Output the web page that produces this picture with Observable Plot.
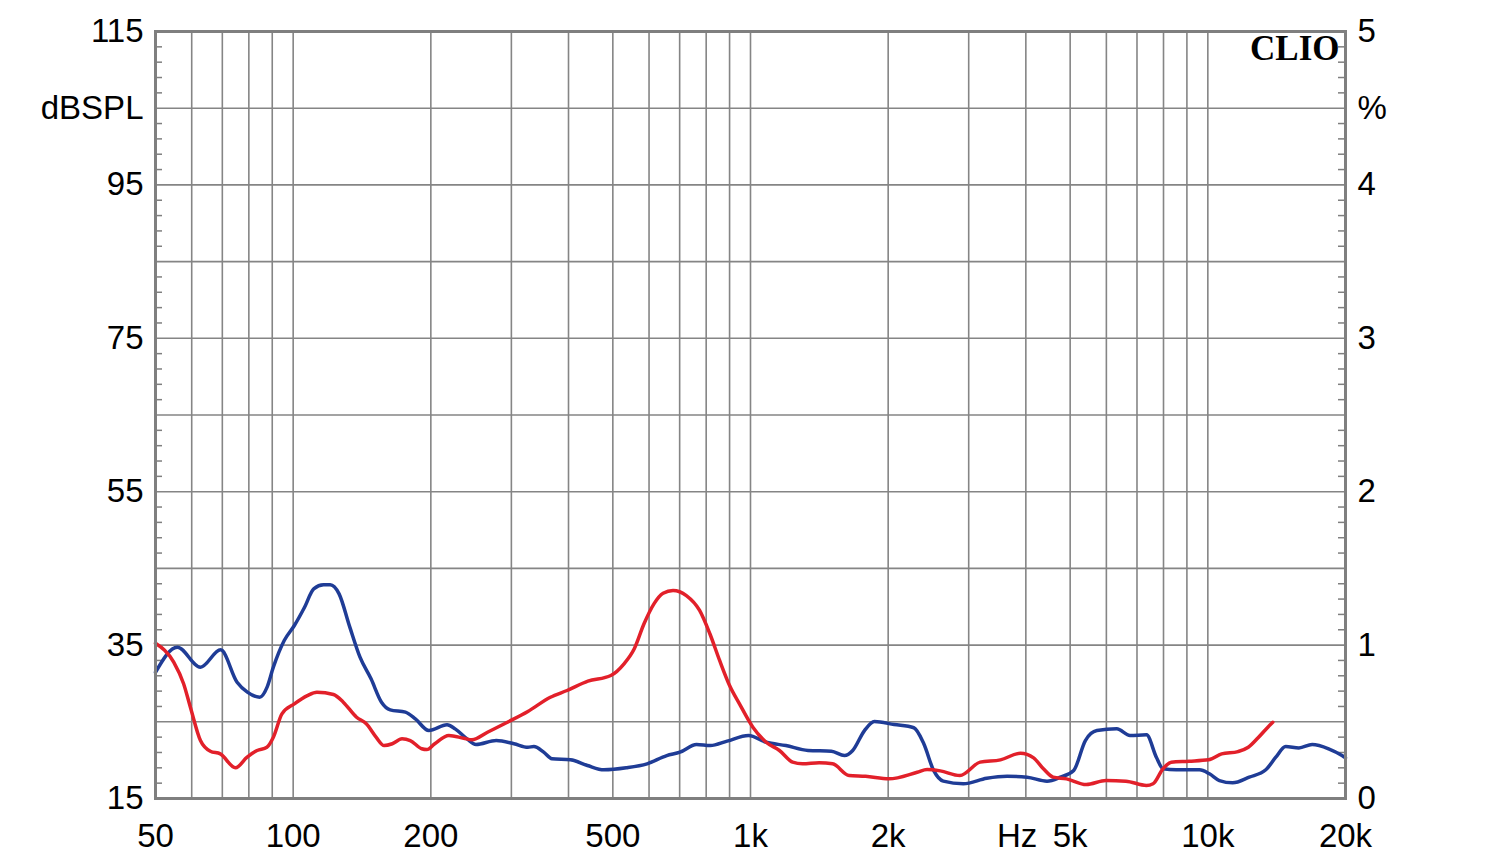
<!DOCTYPE html>
<html>
<head>
<meta charset="utf-8">
<script src="https://cdn.jsdelivr.net/npm/d3@7"></script>
<script src="https://cdn.jsdelivr.net/npm/@observablehq/plot@0.6"></script>
<style>
  html, body { margin: 0; padding: 0; background: #fff; }
  #chart svg { display: block; }
</style>
</head>
<body>
<div id="chart"></div>
<script>
// Blue curve (frequency in Hz, distortion in %)
const blueFreq = [50,55.8,62.7,69.4,75.4,79.4,84.5,87.7,90.5,95.6,100.6,105.9,110.9,116.5,120.5,126,133,140,148,156,163,176,185,198,217,226,240,251,278,304,326,336,353,368,404,440,478,535,594,656,701,762,817,889,990,1083,1195,1336,1503,1605,1673,1775,1866,2062,2276,2393,2514,2640,2920,3286,3640,4025,4450,4760,5090,5398,5720,6322,6758,7343,7717,7980,8530,9590,10080,10600,11330,12320,13390,14080,14800,15820,16910,18370,19650,20000];
const bluePct = [0.823,0.986,0.856,0.969,0.758,0.693,0.660,0.726,0.856,1.03,1.128,1.247,1.367,1.393,1.393,1.334,1.117,0.921,0.780,0.628,0.578,0.563,0.519,0.443,0.480,0.454,0.389,0.352,0.378,0.357,0.334,0.339,0.302,0.259,0.252,0.215,0.187,0.200,0.226,0.280,0.302,0.352,0.345,0.374,0.411,0.367,0.345,0.313,0.308,0.280,0.313,0.443,0.502,0.482,0.461,0.357,0.183,0.113,0.096,0.132,0.145,0.139,0.113,0.139,0.183,0.378,0.443,0.454,0.411,0.415,0.269,0.194,0.187,0.187,0.161,0.117,0.102,0.139,0.187,0.269,0.339,0.330,0.352,0.324,0.280,0.265];

// Red curve
const redFreq = [50,54.8,57.6,59.6,62.7,65.9,69.3,74.8,79.3,83.4,87.6,90.5,94.5,100.6,107.4,112.7,122.5,128.7,137.6,144.5,151.8,158.1,164.7,173,180.3,191,196,204,219,236,246,266,294,326,365,397,441,495,529,557,585,615,644,677,724,774,815,856,900,946,1012,1082,1157,1236,1300,1413,1512,1643,1785,2007,2315,2433,2600,2870,3178,3520,3893,4160,4370,4590,4910,5420,5990,6620,7340,7590,7980,8320,9100,10040,10720,11640,12260,12880,13530,13870];
const redPct = [1.012,0.889,0.748,0.595,0.378,0.308,0.291,0.200,0.269,0.313,0.334,0.400,0.552,0.617,0.671,0.693,0.678,0.628,0.530,0.487,0.400,0.345,0.357,0.389,0.378,0.324,0.319,0.357,0.411,0.393,0.383,0.432,0.497,0.567,0.660,0.704,0.765,0.802,0.878,0.976,1.139,1.269,1.338,1.356,1.323,1.226,1.074,0.900,0.737,0.617,0.465,0.367,0.313,0.237,0.226,0.233,0.226,0.150,0.145,0.128,0.171,0.189,0.180,0.150,0.237,0.252,0.295,0.265,0.194,0.139,0.128,0.091,0.117,0.113,0.085,0.096,0.194,0.237,0.243,0.252,0.291,0.306,0.334,0.396,0.465,0.497];

// Axes
const xTickVals = [50,100,200,500,1000,2000,5000,10000,20000];
const xTickLabels = ["50","100","200","500","1k","2k","5k","10k","20k"];
const xGrid = [60,70,80,90,100,200,300,400,500,600,700,800,900,1000,2000,3000,4000,5000,6000,7000,8000,9000,10000];
const yTickVals = [0,1,2,3,4,5];
const leftLabels = ["15","35","55","75","95","115"];
const rightLabels = ["0","1","2","3","4","5"];
const yGrid = [0.5,1,1.5,2,2.5,3,3.5,4,4.5];
const yMinor = d3.range(1,50).map(i => i/10).filter(v => Math.abs(v*2 - Math.round(v*2)) > 1e-6);
const leftUnit = "dBSPL";
const rightUnit = "%";
const xUnit = "Hz";
const brand = "CLIO";

const blue = blueFreq.map((f,i) => ({f, p: bluePct[i]}));
const red = redFreq.map((f,i) => ({f, p: redPct[i]}));

const plotW = 1500 - 155 - 155;
const font = "Liberation Sans, Arial, sans-serif";
const fs = 33;

const chart = Plot.plot({
  width: 1500,
  height: 864,
  marginLeft: 155,
  marginRight: 155,
  marginTop: 31,
  marginBottom: 66,
  x: {type: "log", domain: [50, 20000], axis: null},
  y: {domain: [0, 5], axis: null},
  style: {fontFamily: font, background: "#fff"},
  marks: [
    Plot.ruleX(xGrid, {x: d => d, stroke: "#858585", strokeWidth: 1.6}),
    Plot.ruleY(yGrid, {y: d => d, stroke: "#858585", strokeWidth: 1.6}),
    Plot.tickY(yMinor, {y: d => d, insetRight: plotW - 7, stroke: "#7f7f7f", strokeWidth: 1.5}),
    Plot.tickY(yMinor, {y: d => d, insetLeft: plotW - 7, stroke: "#7f7f7f", strokeWidth: 1.5}),
    Plot.line(blue, {x: "f", y: "p", stroke: "#1f3c96", strokeWidth: 3.5, curve: "monotone-x"}),
    Plot.line(red, {x: "f", y: "p", stroke: "#e2202a", strokeWidth: 3.5, curve: "monotone-x"}),
    Plot.frame({stroke: "#7f7f7f", strokeWidth: 3}),
    Plot.text(yTickVals, {y: d => d, text: (d,i) => leftLabels[i], frameAnchor: "left", dx: -12, textAnchor: "end", lineAnchor: "middle", fontSize: fs, fill: "#000"}),
    Plot.text([4.5], {y: d => d, text: () => leftUnit, frameAnchor: "left", dx: -12, textAnchor: "end", lineAnchor: "middle", fontSize: fs, fill: "#000"}),
    Plot.text(yTickVals, {y: d => d, text: (d,i) => rightLabels[i], frameAnchor: "right", dx: 12, textAnchor: "start", lineAnchor: "middle", fontSize: fs, fill: "#000"}),
    Plot.text([4.5], {y: d => d, text: () => rightUnit, frameAnchor: "right", dx: 12, textAnchor: "start", lineAnchor: "middle", fontSize: fs, fill: "#000"}),
    Plot.text(xTickVals, {x: d => d, text: (d,i) => xTickLabels[i], frameAnchor: "bottom", dy: 38, lineAnchor: "middle", fontSize: fs, fill: "#000"}),
    Plot.text([3830], {x: d => d, text: () => xUnit, frameAnchor: "bottom", dy: 38, lineAnchor: "middle", fontSize: fs, fill: "#000"}),
    Plot.text([brand], {text: d => d, frameAnchor: "top-right", dx: -6, dy: 17, lineAnchor: "middle", fontSize: 35, fontWeight: "bold", fontFamily: "Liberation Serif, Times New Roman, serif", fill: "#000"})
  ]
});
document.getElementById("chart").appendChild(chart);
</script>
</body>
</html>
